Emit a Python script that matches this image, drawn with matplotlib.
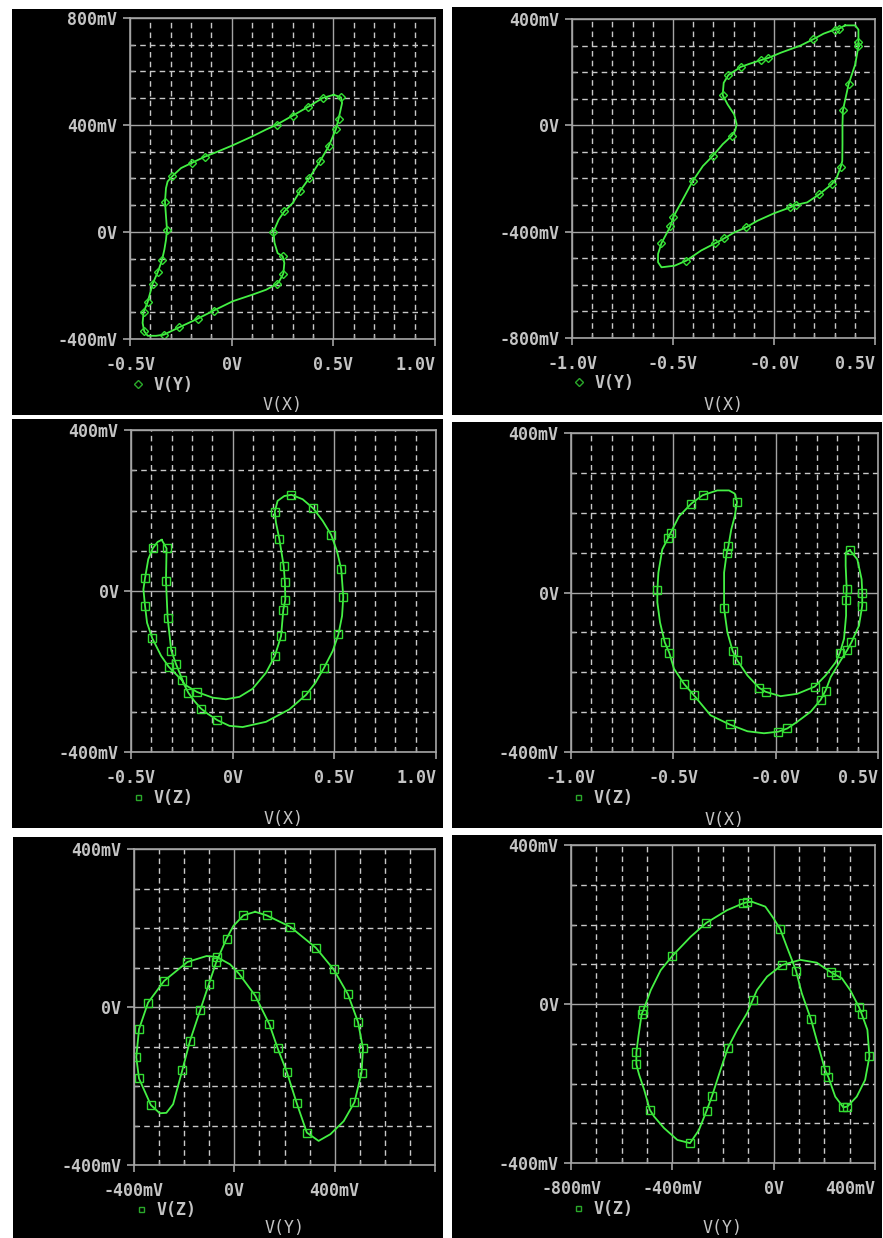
import matplotlib
matplotlib.use('Agg')
import matplotlib.pyplot as plt
from matplotlib.lines import Line2D
from matplotlib.ticker import MultipleLocator

W, H = 883, 1238

# ---- traces (x in V or mV, y in mV) ----
# V(Y) vs V(X), first run
p1_x = [0.502, 0.538, 0.543, 0.526, 0.513, 0.477, 0.434, 0.382, 0.338, 0.300, 0.259, 0.231,
        0.205, 0.211, 0.226, 0.251, 0.259, 0.254, 0.234, 0.223, 0.169, 0.103, 0.005, -0.089,
        -0.167, -0.257, -0.334, -0.372, -0.413, -0.430, -0.438, -0.433, -0.413, -0.389, -0.364,
        -0.343, -0.331, -0.323, -0.318, -0.323, -0.328, -0.323, -0.315, -0.293, -0.249, -0.197,
        -0.131, -0.077, 0.005, 0.103, 0.169, 0.221, 0.300, 0.374, 0.448, 0.502]
p1_y = [513, 503, 482, 424, 385, 320, 264, 202, 155, 108, 77, 46, 0, -41, -79, -91, -116, -156,
        -184, -194, -216, -234, -259, -294, -324, -356, -384, -388, -388, -371, -340, -299, -262,
        -194, -151, -106, -66, -29, 9, 59, 113, 164, 189, 208, 239, 258, 282, 298, 324, 358, 383,
        401, 435, 467, 501, 513]
p1_marks = [1, 3, 4, 5, 6, 7, 8, 10, 12, 15, 17, 19, 23, 24, 25, 26, 29, 31, 32, 33, 34, 35, 38,
            40, 43, 45, 46, 51, 52, 53, 54]

# V(Y) vs V(X), second run
p2_x = [0.352, 0.402, 0.418, 0.418, 0.418, 0.402, 0.369, 0.341, 0.339, 0.339, 0.338, 0.331,
        0.311, 0.287, 0.225, 0.164, 0.110, 0.079, 0.0, -0.082, -0.139, -0.197, -0.246, -0.290,
        -0.361, -0.434, -0.492, -0.557, -0.574, -0.574, -0.557, -0.513, -0.498, -0.451, -0.402,
        -0.352, -0.303, -0.254, -0.210, -0.192, -0.185, -0.197, -0.230, -0.254, -0.249, -0.226,
        -0.164, -0.123, -0.066, -0.030, 0.033, 0.131, 0.192, 0.246, 0.300, 0.323, 0.352]
p2_y = [376, 376, 360, 314, 298, 229, 154, 56, 4, -71, -134, -155, -196, -221, -259, -290, -299,
        -309, -331, -359, -384, -403, -425, -443, -471, -509, -528, -534, -515, -484, -443, -380,
        -344, -278, -209, -153, -115, -71, -40, -19, 4, 41, 79, 114, 160, 189, 220, 231, 245, 253,
        273, 300, 323, 345, 360, 364, 376]
p2_marks = [3, 4, 6, 7, 11, 13, 14, 16, 17, 20, 22, 23, 25, 30, 31, 32, 34, 36, 38, 43, 45, 46,
            48, 49, 52, 54, 55]

# V(Z) vs V(X), first run
p3_x = [-0.349, -0.325, -0.328, -0.320, -0.302, -0.279, -0.238, -0.175, -0.098, -0.033, 0.033,
        0.098, 0.164, 0.207, 0.238, 0.249, 0.259, 0.257, 0.251, 0.230, 0.213, 0.207, 0.221, 0.254,
        0.289, 0.344, 0.397, 0.443, 0.484, 0.513, 0.534, 0.544, 0.538, 0.520, 0.492, 0.448, 0.407,
        0.361, 0.279, 0.164, 0.049, -0.016, -0.075, -0.123, -0.156, -0.189, -0.218, -0.249, -0.315,
        -0.352, -0.395, -0.421, -0.431, -0.439, -0.431, -0.415, -0.393, -0.369, -0.349]
p3_y = [127, 106, 26, -66, -148, -181, -232, -251, -265, -269, -263, -243, -203, -162, -112, -47,
        -22, 22, 62, 128, 170, 197, 224, 236, 239, 228, 205, 174, 140, 99, 54, -15, -62, -108,
        -149, -192, -228, -258, -294, -325, -338, -335, -321, -305, -292, -273, -253, -222, -188,
        -161, -118, -79, -37, 4, 32, 79, 106, 122, 127]
p3_marks = [1, 2, 3, 4, 5, 7, 13, 14, 15, 16, 17, 18, 19, 21, 24, 26, 28, 30, 31, 33, 35, 37, 42,
            44, 46, 47, 48, 50, 52, 54, 56]

# V(Z) vs V(X), second run
p4_x = [0.363, 0.399, 0.420, 0.423, 0.423, 0.407, 0.370, 0.350, 0.318, 0.269, 0.244, 0.220,
        0.171, 0.106, 0.057, 0.013, -0.057, -0.138, -0.225, -0.318, -0.399, -0.448, -0.497,
        -0.520, -0.542, -0.565, -0.578, -0.578, -0.573, -0.554, -0.526, -0.513, -0.472, -0.412,
        -0.357, -0.285, -0.228, -0.200, -0.189, -0.200, -0.217, -0.231, -0.239, -0.252, -0.252,
        -0.252, -0.236, -0.210, -0.189, -0.138, -0.081, -0.049, 0.024, 0.106, 0.191, 0.244, 0.293,
        0.314, 0.334, 0.344, 0.344, 0.347, 0.342, 0.342, 0.363]
p4_y = [106, 83, 33, 0, -33, -83, -125, -144, -170, -212, -246, -269, -299, -324, -341, -349,
        -353, -348, -331, -308, -258, -229, -191, -151, -125, -75, -25, 7, 50, 108, 136, 150, 191,
        223, 244, 256, 256, 248, 227, 191, 158, 116, 100, 50, -8, -40, -100, -147, -169, -208,
        -239, -249, -260, -254, -236, -208, -175, -151, -116, -58, -18, 8, 67, 100, 106]
p4_marks = [0, 3, 4, 6, 7, 10, 11, 14, 15, 18, 20, 21, 23, 24, 27, 30, 31, 33, 34, 38, 41, 42, 45,
            47, 48, 50, 51, 54, 57, 60, 61]

# V(Z) vs V(Y), first run (both in mV)
p5_x = [83, 129, 223, 325, 396, 453, 493, 513, 507, 479, 436, 383, 336, 289, 249, 209, 173, 140,
        83, 19, -17, -71, -111, -187, -280, -344, -380, -391, -380, -333, -297, -271, -244, -207,
        -177, -136, -101, -72, -31, -4, 36, 83]
p5_y = [241, 232, 203, 150, 95, 32, -38, -105, -167, -241, -289, -322, -339, -318, -244, -164,
        -105, -44, 29, 84, 108, 127, 129, 114, 66, 11, -56, -127, -181, -248, -269, -268, -246,
        -159, -86, -8, 59, 114, 173, 205, 232, 241]
p5_marks = [1, 2, 3, 4, 5, 6, 7, 8, 9, 13, 14, 15, 16, 17, 18, 19, 21, 23, 24, 25, 26, 27, 28, 29,
            33, 34, 35, 36, 37, 38, 40]

# V(Z) vs V(Y), second run (both in mV)
p6_x = [-85, -33, 0, 26, 52, 72, 88, 111, 147, 177, 203, 216, 243, 275, 291, 328, 361, 378, 370,
        348, 337, 302, 269, 245, 226, 170, 105, 33, -26, -66, -83, -105, -144, -181, -210, -243,
        -265, -295, -330, -380, -433, -472, -489, -511, -531, -542, -542, -534, -521, -514, -485,
        -446, -400, -328, -266, -184, -122, -105, -85]
p6_y = [257, 245, 215, 188, 144, 111, 84, 27, -38, -107, -166, -184, -233, -260, -258, -233, -191,
        -132, -65, -26, -8, 35, 65, 73, 80, 104, 111, 98, 69, 35, 10, -23, -65, -111, -166, -231,
        -269, -317, -350, -342, -312, -283, -266, -216, -178, -152, -122, -82, -25, -15, 35, 85,
        121, 169, 204, 236, 253, 256, 257]
p6_marks = [3, 6, 8, 10, 11, 13, 14, 17, 19, 20, 23, 24, 27, 30, 33, 35, 36, 38, 42, 45, 46, 48,
            49, 52, 54, 56, 57]

# axis ticks
xt_a = [-0.5, 0.0, 0.5, 1.0]
xl_a = ['-0.5V', '0V', '0.5V', '1.0V']
xt_b = [-1.0, -0.5, 0.0, 0.5]
xl_b = ['-1.0V', '-0.5V', '-0.0V', '0.5V']
yt_p1 = [-400, 0, 400, 800]
yl_p1 = ['-400mV', '0V', '400mV', '800mV']
yt_p2 = [-800, -400, 0, 400]
yl_p2 = ['-800mV', '-400mV', '0V', '400mV']
yt_z = [-400, 0, 400]
yl_z = ['-400mV', '0V', '400mV']
xt_p5 = [-400, 0, 400, 800]
xl_p5 = ['-400mV', '0V', '400mV', '']
xt_p6 = [-800, -400, 0, 400]
xl_p6 = ['-800mV', '-400mV', '0V', '400mV']

CURVE = '#44f044'
MARK = '#33dd33'
LEG_MARK = '#2aa82a'
TEXT = '#c4c4c4'
GRID_SOLID = '#a4a4a4'
GRID_DASH = '#c8c8c8'

plt.rcParams['font.family'] = ['DejaVu Sans Mono']
plt.rcParams['font.weight'] = 'bold'

fig = plt.figure(figsize=(W / 100, H / 100), dpi=100)
fig.patch.set_facecolor('white')


def rect(l, t, r, b):
    return [l / W, 1 - b / H, (r - l) / W, (b - t) / H]


panels = [
    dict(bg=(12, 9, 443, 415), box=(130, 18, 435, 339), x=p1_x, y=p1_y, marks=p1_marks,
         xlim=(-0.5, 1.0), ylim=(-400, 800), xt=xt_a, xl=xl_a, yt=yt_p1, yl=yl_p1,
         xminor=0.1, mk='D', ms=4.2, leg='V(Y)', xlab='V(X)', leg_xy=(130, 385), lab_y=405,
         right_last=True),
    dict(bg=(452, 7, 882, 415), box=(572, 19, 875, 338), x=p2_x, y=p2_y, marks=p2_marks,
         xlim=(-1.0, 0.5), ylim=(-800, 400), xt=xt_b, xl=xl_b, yt=yt_p2, yl=yl_p2,
         xminor=0.1, mk='D', ms=4.2, leg='V(Y)', xlab='V(X)', leg_xy=(571, 383), lab_y=405,
         right_last=True),
    dict(bg=(12, 419, 443, 828), box=(131, 430, 436, 752), x=p3_x, y=p3_y, marks=p3_marks,
         xlim=(-0.5, 1.0), ylim=(-400, 400), xt=xt_a, xl=xl_a, yt=yt_z, yl=yl_z,
         xminor=0.1, mk='s', ms=5.2, leg='V(Z)', xlab='V(X)', leg_xy=(130, 798), lab_y=819,
         right_last=True),
    dict(bg=(452, 422, 882, 828), box=(571, 433, 878, 752), x=p4_x, y=p4_y, marks=p4_marks,
         xlim=(-1.0, 0.5), ylim=(-400, 400), xt=xt_b, xl=xl_b, yt=yt_z, yl=yl_z,
         xminor=0.1, mk='s', ms=5.2, leg='V(Z)', xlab='V(X)', leg_xy=(570, 798), lab_y=820,
         right_last=True),
    dict(bg=(13, 837, 443, 1238), box=(134, 849, 435, 1165), x=p5_x, y=p5_y, marks=p5_marks,
         xlim=(-400, 800), ylim=(-400, 400), xt=xt_p5, xl=xl_p5, yt=yt_z, yl=yl_z,
         xminor=100, mk='s', ms=5.2, leg='V(Z)', xlab='V(Y)', leg_xy=(133, 1210), lab_y=1228,
         right_last=False),
    dict(bg=(452, 835, 882, 1238), box=(571, 845, 875, 1163), x=p6_x, y=p6_y, marks=p6_marks,
         xlim=(-800, 400), ylim=(-400, 400), xt=xt_p6, xl=xl_p6, yt=yt_z, yl=yl_z,
         xminor=100, mk='s', ms=5.2, leg='V(Z)', xlab='V(Y)', leg_xy=(570, 1209), lab_y=1228,
         right_last=True),
]

for p in panels:
    bg = fig.add_axes(rect(*p['bg']), zorder=0)
    bg.set_facecolor('black')
    bg.set_xticks([])
    bg.set_yticks([])
    for s in bg.spines.values():
        s.set_visible(False)

    l, t, r, b = p['box']
    ax = fig.add_axes(rect(l, t, r, b), zorder=1)
    ax.set_facecolor('black')
    ax.set_axisbelow(True)
    ax.plot(p['x'], p['y'], color=CURVE, lw=1.3, marker=p['mk'], markevery=p['marks'],
            mfc='none', mec=MARK, ms=p['ms'], mew=1.0)
    ax.set_xlim(*p['xlim'])
    ax.set_ylim(*p['ylim'])

    ax.set_xticks(p['xt'])
    ax.set_xticklabels(p['xl'])
    ax.set_yticks(p['yt'])
    ax.set_yticklabels(p['yl'])
    ax.xaxis.set_minor_locator(MultipleLocator(p['xminor']))
    ax.yaxis.set_minor_locator(MultipleLocator(100))

    ax.grid(which='major', color=GRID_SOLID, lw=1.0, ls='-')
    ax.grid(which='minor', color=GRID_DASH, lw=1.0, ls=(0, (4, 3)))
    for s in ax.spines.values():
        s.set_color(GRID_SOLID)
        s.set_linewidth(1.2)

    ax.tick_params(which='major', direction='out', length=5, width=1.2, color=GRID_SOLID,
                   labelcolor=TEXT, labelsize=12)
    ax.tick_params(axis='x', which='major', pad=7)
    ax.tick_params(axis='y', which='major', pad=4)
    ax.tick_params(which='minor', direction='in', length=3, width=1, color=GRID_SOLID)

    if p['right_last']:
        ax.get_xticklabels()[-1].set_ha('right')

    handle = Line2D([], [], ls='none', marker=p['mk'], mfc='none', mec=LEG_MARK,
                    ms=3.6, mew=1.0)
    lx, ly = p['leg_xy']
    ax.legend([handle], [p['leg']], loc='center left', bbox_to_anchor=(lx / W, 1 - ly / H),
              bbox_transform=fig.transFigure, frameon=False, handlelength=1.0,
              handletextpad=0.4, borderpad=0, borderaxespad=0, labelcolor=TEXT,
              prop={'size': 12, 'weight': 'bold'}, numpoints=1)

    ax.set_xlabel(p['xlab'], color=TEXT, fontsize=12)
    ax.xaxis.label.set_va('center')
    ax.xaxis.set_label_coords(0.5, (b - p['lab_y']) / (b - t))

fig.savefig('out.png', dpi=100, facecolor='white')
